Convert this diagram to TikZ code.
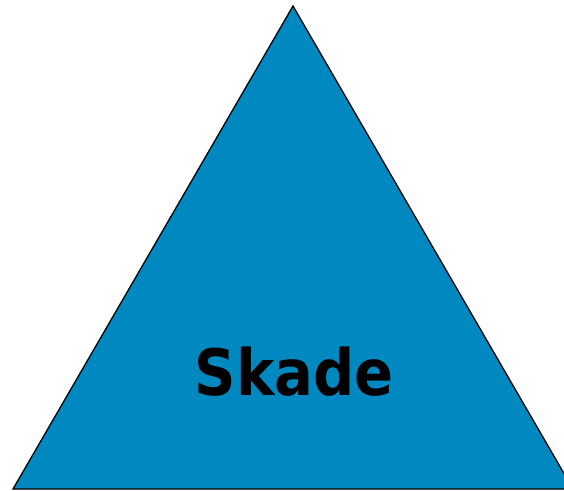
\documentclass[tikz,border=0pt]{standalone}
\usepackage{fontspec}
\newfontfamily\labelfont{DejaVu Sans Condensed}
\definecolor{skadeblue}{RGB}{0,136,192}
\tikzset{
  tri/.style={fill=skadeblue, draw=black, line width=1.3pt, line join=miter},
  lbl/.style={font=\labelfont\bfseries\fontsize{64}{66}\selectfont, text=black, inner sep=0pt}
}
\begin{document}
\begin{tikzpicture}[x=1pt,y=1pt]
\useasboundingbox (0,0) rectangle (564,490);
\clip (0,0) rectangle (564,490);
\coordinate (apex) at (293,484);
\coordinate (bl) at (13,1);
\coordinate (br) at (573,1);
\draw[tri] (apex) -- (bl) -- (br) -- cycle;
\node[lbl, anchor=base] (skade) at (294,95) {Skade};
\end{tikzpicture}
\end{document}
